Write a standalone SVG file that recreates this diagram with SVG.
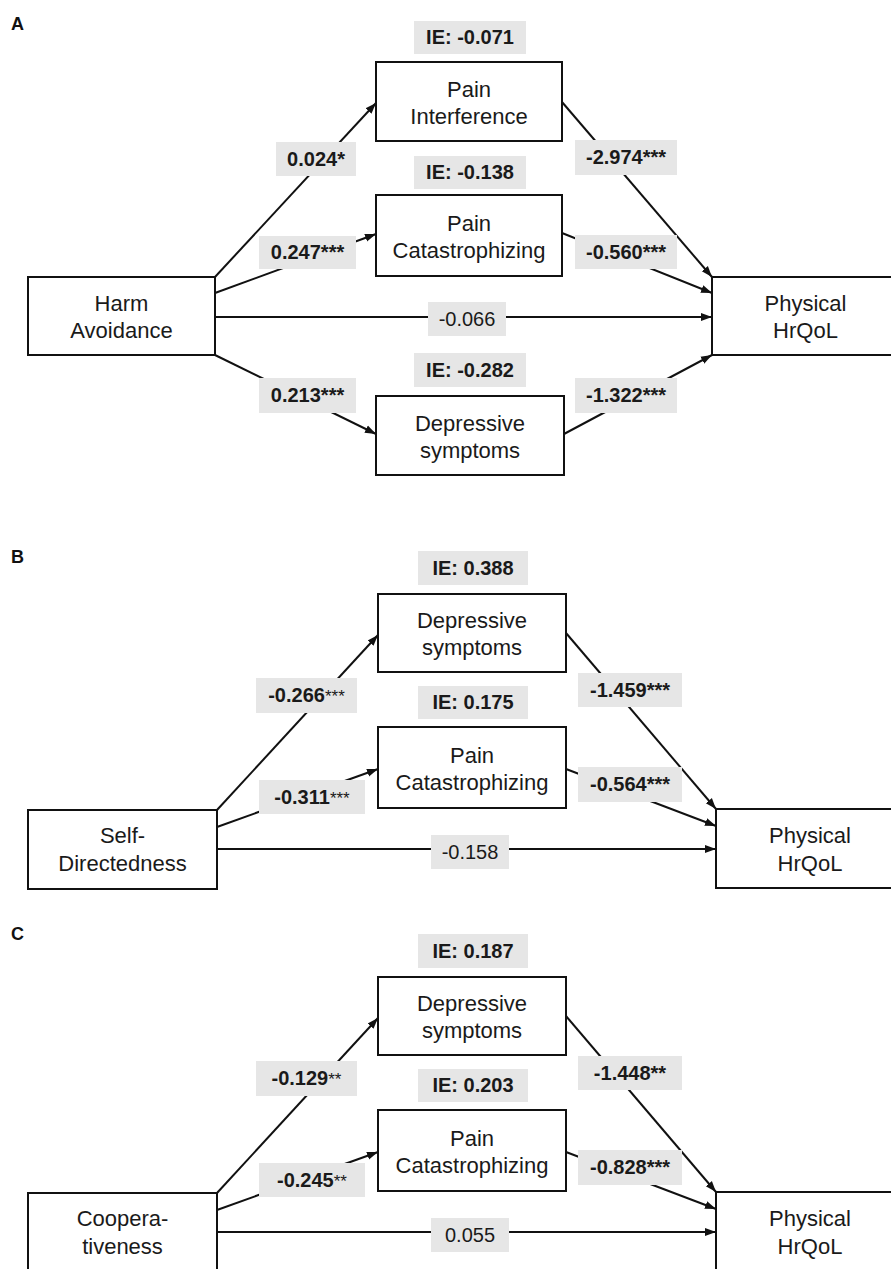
<svg xmlns="http://www.w3.org/2000/svg" width="891" height="1269" viewBox="0 0 891 1269">
<style>
.node rect{fill:#fff;stroke:#111;stroke-width:2}
.nt{font-family:"Liberation Sans",Arial,sans-serif;font-size:22px;fill:#1a1a1a;text-anchor:middle}
.lb rect{fill:#e6e6e6;stroke:none}
.lt{font-family:"Liberation Sans",Arial,sans-serif;font-size:20px;fill:#1a1a1a;text-anchor:middle}
.b{font-weight:bold}
.st{font-size:17px;font-weight:normal}
.pl{font-family:"Liberation Sans",Arial,sans-serif;font-size:18px;font-weight:bold;fill:#111}
.conn path{fill:none;stroke:#111;stroke-width:2}
</style>
<defs>
<marker id="ah" markerUnits="userSpaceOnUse" markerWidth="12" markerHeight="10" refX="11" refY="5" orient="auto">
<path d="M0,1 L11,5 L0,9 Z" fill="#111"/>
</marker>
</defs>
<rect x="0" y="0" width="891" height="1269" fill="#fff"/>

<!-- Panel A -->
<text class="pl" x="11" y="30">A</text>
<g class="conn" id="connA">
<path d="M215,277 L376,103" marker-end="url(#ah)"/>
<path d="M215,293 L376,234" marker-end="url(#ah)"/>
<path d="M215,317 L712,317" marker-end="url(#ah)"/>
<path d="M215,355 L376,434" marker-end="url(#ah)"/>
<path d="M562,102 L712,277" marker-end="url(#ah)"/>
<path d="M562,233 L712,293" marker-end="url(#ah)"/>
<path d="M564,434 L712,355" marker-end="url(#ah)"/>
</g>
<g class="node" id="A_harm"><rect x="28" y="277" width="187" height="78"/><text class="nt" x="121.5" y="311">Harm</text><text class="nt" x="121.5" y="338">Avoidance</text></g>
<g class="node" id="A_pint"><rect x="376" y="62" width="186" height="79"/><text class="nt" x="469" y="97">Pain</text><text class="nt" x="469" y="124">Interference</text></g>
<g class="node" id="A_pcat"><rect x="376" y="195" width="186" height="81"/><text class="nt" x="469" y="231">Pain</text><text class="nt" x="469" y="258">Catastrophizing</text></g>
<g class="node" id="A_dep"><rect x="376" y="396" width="188" height="79"/><text class="nt" x="470" y="431">Depressive</text><text class="nt" x="470" y="458">symptoms</text></g>
<g class="node" id="A_phys"><rect x="712" y="277" width="187" height="78"/><text class="nt" x="805.5" y="311">Physical</text><text class="nt" x="805.5" y="338">HrQoL</text></g>
<g class="lb" id="A_labels">
<rect x="414" y="21" width="112" height="33"/><text class="lt b" x="470" y="44">IE: -0.071</text>
<rect x="414" y="156" width="112" height="33"/><text class="lt b" x="470" y="179">IE: -0.138</text>
<rect x="414" y="353" width="112" height="34"/><text class="lt b" x="470" y="377">IE: -0.282</text>
<rect x="276" y="142" width="80" height="34"/><text class="lt b" x="316" y="166">0.024*</text>
<rect x="259" y="236" width="97" height="33"/><text class="lt b" x="307.5" y="259">0.247***</text>
<rect x="259" y="378" width="97" height="35"/><text class="lt b" x="307.5" y="402">0.213***</text>
<rect x="428" y="302" width="78" height="34"/><text class="lt" x="467" y="326">-0.066</text>
<rect x="575" y="140" width="102" height="35"/><text class="lt b" x="626" y="164">-2.974***</text>
<rect x="575" y="235" width="102" height="34"/><text class="lt b" x="626" y="259">-0.560***</text>
<rect x="575" y="378" width="102" height="35"/><text class="lt b" x="626" y="402">-1.322***</text>
</g>

<!-- Panel B -->
<text class="pl" x="11" y="563">B</text>
<g class="conn" id="connB">
<path d="M217,810 L378,635" marker-end="url(#ah)"/>
<path d="M217,827 L378,769" marker-end="url(#ah)"/>
<path d="M217,849 L716,849" marker-end="url(#ah)"/>
<path d="M566,633 L716,809" marker-end="url(#ah)"/>
<path d="M566,769 L716,826" marker-end="url(#ah)"/>
</g>
<g class="node" id="B_self"><rect x="28" y="810" width="189" height="79"/><text class="nt" x="122.5" y="843">Self-</text><text class="nt" x="122.5" y="871">Directedness</text></g>
<g class="node" id="B_dep"><rect x="378" y="594" width="188" height="78"/><text class="nt" x="472" y="628">Depressive</text><text class="nt" x="472" y="655">symptoms</text></g>
<g class="node" id="B_pcat"><rect x="378" y="727" width="188" height="81"/><text class="nt" x="472" y="763">Pain</text><text class="nt" x="472" y="790">Catastrophizing</text></g>
<g class="node" id="B_phys"><rect x="716" y="809" width="188" height="79"/><text class="nt" x="810" y="843">Physical</text><text class="nt" x="810" y="871">HrQoL</text></g>
<g class="lb" id="B_labels">
<rect x="418" y="551" width="110" height="34"/><text class="lt b" x="473" y="575">IE: 0.388</text>
<rect x="418" y="686" width="110" height="33"/><text class="lt b" x="473" y="709">IE: 0.175</text>
<rect x="256" y="678" width="101" height="35"/><text class="lt b" x="306.5" y="702">-0.266<tspan class="st">***</tspan></text>
<rect x="259" y="780" width="106" height="34"/><text class="lt b" x="312" y="804">-0.311<tspan class="st">***</tspan></text>
<rect x="431" y="835" width="78" height="34"/><text class="lt" x="470" y="859">-0.158</text>
<rect x="578" y="673" width="104" height="34"/><text class="lt b" x="630" y="697">-1.459***</text>
<rect x="578" y="767" width="104" height="35"/><text class="lt b" x="630" y="791">-0.564***</text>
</g>

<!-- Panel C -->
<text class="pl" x="11" y="940">C</text>
<g class="conn" id="connC">
<path d="M217,1193 L378,1018" marker-end="url(#ah)"/>
<path d="M217,1210 L378,1152" marker-end="url(#ah)"/>
<path d="M217,1232 L716,1232" marker-end="url(#ah)"/>
<path d="M566,1016 L716,1192" marker-end="url(#ah)"/>
<path d="M566,1152 L716,1209" marker-end="url(#ah)"/>
</g>
<g class="node" id="C_coop"><rect x="28" y="1193" width="189" height="79"/><text class="nt" x="122.5" y="1226">Coopera-</text><text class="nt" x="122.5" y="1254">tiveness</text></g>
<g class="node" id="C_dep"><rect x="378" y="977" width="188" height="78"/><text class="nt" x="472" y="1011">Depressive</text><text class="nt" x="472" y="1038">symptoms</text></g>
<g class="node" id="C_pcat"><rect x="378" y="1110" width="188" height="81"/><text class="nt" x="472" y="1146">Pain</text><text class="nt" x="472" y="1173">Catastrophizing</text></g>
<g class="node" id="C_phys"><rect x="716" y="1192" width="188" height="79"/><text class="nt" x="810" y="1226">Physical</text><text class="nt" x="810" y="1254">HrQoL</text></g>
<g class="lb" id="C_labels">
<rect x="418" y="934" width="110" height="34"/><text class="lt b" x="473" y="958">IE: 0.187</text>
<rect x="418" y="1069" width="110" height="33"/><text class="lt b" x="473" y="1092">IE: 0.203</text>
<rect x="256" y="1061" width="101" height="35"/><text class="lt b" x="306.5" y="1085">-0.129<tspan class="st">**</tspan></text>
<rect x="259" y="1163" width="106" height="34"/><text class="lt b" x="312" y="1187">-0.245<tspan class="st">**</tspan></text>
<rect x="431" y="1218" width="78" height="34"/><text class="lt" x="470" y="1242">0.055</text>
<rect x="578" y="1056" width="104" height="34"/><text class="lt b" x="630" y="1080">-1.448**</text>
<rect x="578" y="1150" width="104" height="35"/><text class="lt b" x="630" y="1174">-0.828***</text>
</g>
</svg>
